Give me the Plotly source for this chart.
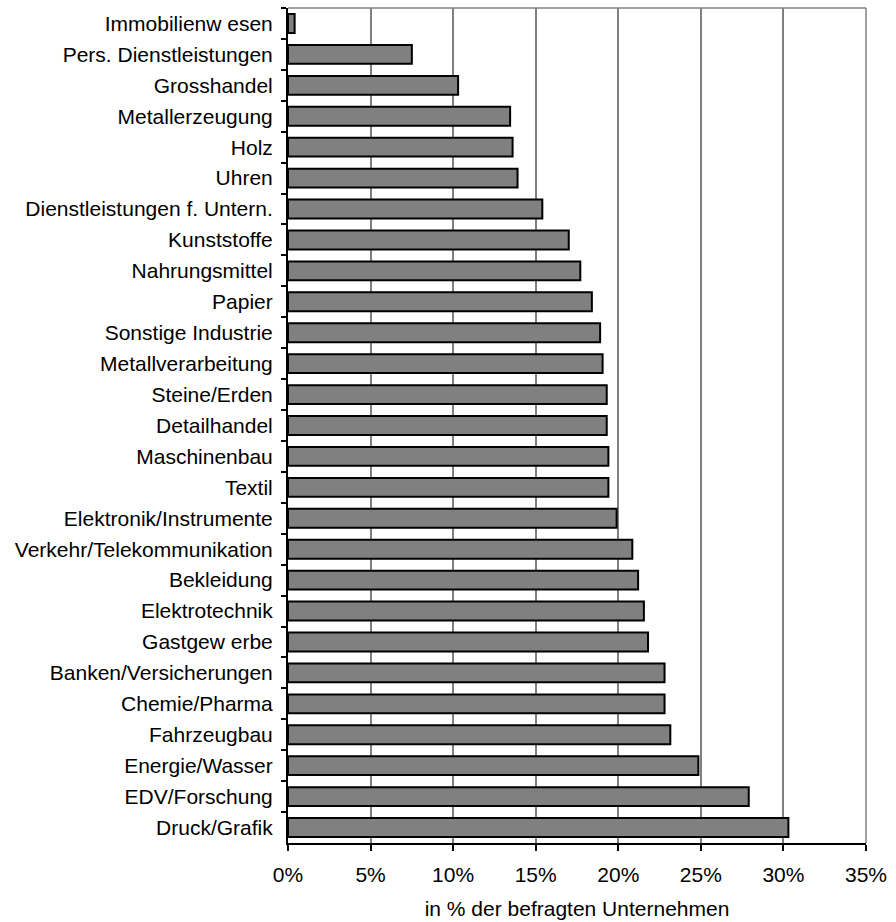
import plotly.graph_objects as go

categories = [
    "Immobilienw esen", "Pers. Dienstleistungen", "Grosshandel", "Metallerzeugung",
    "Holz", "Uhren", "Dienstleistungen f. Untern.", "Kunststoffe", "Nahrungsmittel",
    "Papier", "Sonstige Industrie", "Metallverarbeitung", "Steine/Erden",
    "Detailhandel", "Maschinenbau", "Textil", "Elektronik/Instrumente",
    "Verkehr/Telekommunikation", "Bekleidung", "Elektrotechnik", "Gastgew erbe",
    "Banken/Versicherungen", "Chemie/Pharma", "Fahrzeugbau", "Energie/Wasser",
    "EDV/Forschung", "Druck/Grafik",
]
values = [
    0.4, 7.5, 10.3, 13.45, 13.6, 13.9, 15.4, 17.0, 17.7,
    18.4, 18.9, 19.05, 19.3, 19.3, 19.4, 19.4, 19.9,
    20.85, 21.2, 21.55, 21.8, 22.8, 22.8, 23.15, 24.85,
    27.9, 30.3,
]
x_ticks = [0, 5, 10, 15, 20, 25, 30, 35]
x_ticklabels = [f"{t}%" for t in x_ticks]

FONT = "Liberation Sans, Arial, sans-serif"
FS = 21

fig = go.Figure(go.Bar(
    x=values, y=categories, orientation="h",
    marker=dict(color="#808080", line=dict(color="#000000", width=2)),
    width=0.61,
))

fig.update_layout(
    width=896, height=922,
    margin=dict(l=288, r=30, t=8, b=79),
    paper_bgcolor="white", plot_bgcolor="white",
    font=dict(family=FONT, size=FS, color="#000000"),
    showlegend=False,
    shapes=[
        dict(type="line", xref="paper", yref="paper", x0=0, x1=1, y0=1, y1=1,
             line=dict(color="#808080", width=1.5)),
        dict(type="line", xref="paper", yref="paper", x0=1, x1=1, y0=0, y1=1,
             line=dict(color="#808080", width=1.5)),
    ],
)

fig.update_xaxes(
    range=[0, 35], tickvals=x_ticks, ticktext=x_ticklabels,
    showgrid=True, gridcolor="#808080", gridwidth=1.5,
    showline=True, linecolor="#000000", linewidth=2,
    ticks="outside", ticklen=6, tickcolor="#000000", tickwidth=1.5,
    ticklabelstandoff=6, automargin=False,
    zeroline=False,
    title=dict(text="in % der befragten Unternehmen", standoff=16,
               font=dict(family=FONT, size=FS)),
    tickfont=dict(family=FONT, size=FS),
)

fig.update_yaxes(
    autorange="reversed", type="category", automargin=False,
    showgrid=False, showline=True, linecolor="#000000", linewidth=2,
    ticks="outside", ticklen=5, tickcolor="#000000", tickwidth=1.5,
    tickson="boundaries", ticklabelstandoff=9,
    tickfont=dict(family=FONT, size=FS),
)

fig.write_html("out.html")
